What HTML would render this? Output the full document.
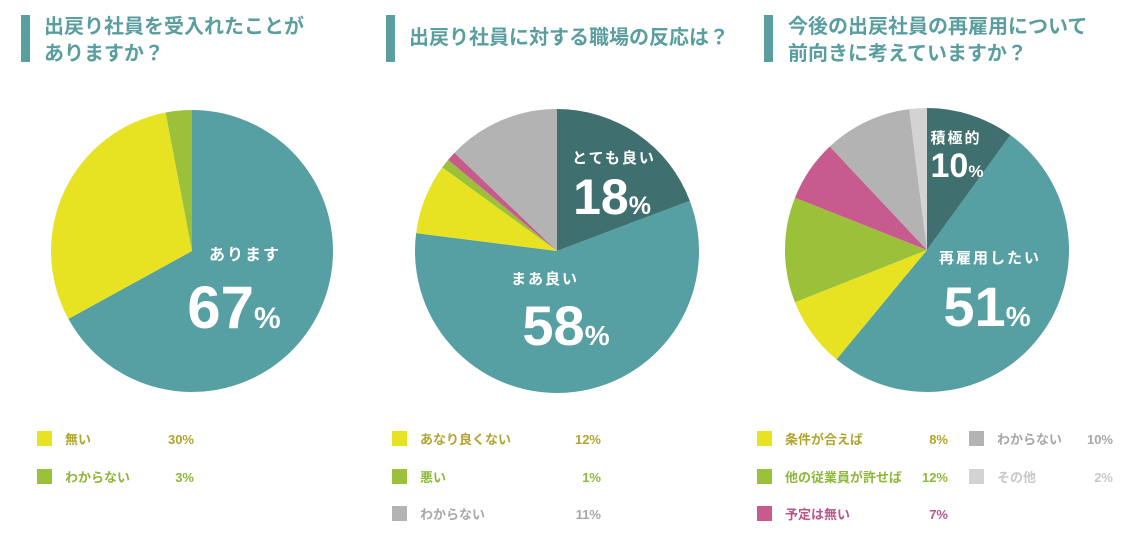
<!DOCTYPE html>
<html><head><meta charset="utf-8">
<style>
body{margin:0;background:#fff;width:1132px;height:530px;overflow:hidden;font-family:"Liberation Sans","Noto Sans CJK JP",sans-serif;}
svg text{font-family:"Liberation Sans","Noto Sans CJK JP",sans-serif;}
</style></head>
<body>
<svg id="chart" width="1132" height="530" xmlns="http://www.w3.org/2000/svg">
<g>
<rect x="21" y="15" width="9" height="47" fill="#5a9ea0"/>
<text x="44" y="33" font-size="20" font-weight="bold" fill="#5a9ea0">出戻り社員を受入れたことが</text>
<text x="44" y="60" font-size="20" font-weight="bold" fill="#5a9ea0">ありますか？</text>
</g>
<g>
<rect x="386" y="15" width="9" height="47" fill="#5a9ea0"/>
<text x="409" y="44" font-size="20" font-weight="bold" fill="#5a9ea0">出戻り社員に対する職場の反応は？</text>
</g>
<g>
<rect x="764" y="15" width="9" height="47" fill="#5a9ea0"/>
<text x="788" y="33" font-size="20" font-weight="bold" fill="#5a9ea0">今後の出戻社員の再雇用について</text>
<text x="788" y="60" font-size="20" font-weight="bold" fill="#5a9ea0">前向きに考えていますか？</text>
</g>
<g id="pies"></g>
</svg>
<script>
// Pie 1
const pie1Values = [67, 30, 3];
const pie1Colors = ["#569fa2", "#e8e322", "#9bc13a"];
// Pie 2 (drawn slice sizes)
const pie2Values = [18, 54, 7.5, 1, 1, 12];
const pie2Colors = ["#3f6f6e", "#569fa2", "#e8e322", "#9bc13a", "#c85b8e", "#b3b3b3"];
// Pie 3
const pie3Values = [10, 51, 8, 12, 7, 10, 2];
const pie3Colors = ["#3f6f6e", "#569fa2", "#e8e322", "#9bc13a", "#c85b8e", "#b3b3b3", "#d3d3d3"];

const legend1Labels = ["無い", "わからない"];
const legend1Values = ["30%", "3%"];
const legend2Labels = ["あなり良くない", "悪い", "わからない"];
const legend2Values = ["12%", "1%", "11%"];
const legend3Labels = ["条件が合えば", "他の従業員が許せば", "予定は無い", "わからない", "その他"];
const legend3Values = ["8%", "12%", "7%", "10%", "2%"];

const NS = "http://www.w3.org/2000/svg";
const root = document.getElementById("pies");
function mk(tag, attrs, parent){const e=document.createElementNS(NS,tag);for(const k in attrs)e.setAttribute(k,attrs[k]);(parent||root).appendChild(e);return e;}
function pt(cx,cy,r,f){const a=f*2*Math.PI;return [cx+r*Math.sin(a),cy-r*Math.cos(a)];}
function drawPie(vals,cols,cx,cy,r,name){
  const tot=vals.reduce((a,b)=>a+b,0);let acc=0;
  vals.forEach((v,i)=>{
    const f0=acc/tot;acc+=v;const f1=acc/tot;
    const p0=pt(cx,cy,r,f0),p1=pt(cx,cy,r,f1);
    const large=(f1-f0)>0.5?1:0;
    const p=mk("path",{d:`M${cx},${cy}L${p0[0]},${p0[1]}A${r},${r} 0 ${large} 1 ${p1[0]},${p1[1]}Z`,fill:cols[i]});
    
    
  });
}
drawPie(pie1Values,pie1Colors,192,251,141,"pie1");
drawPie(pie2Values,pie2Colors,557,251,142,"pie2");
drawPie(pie3Values,pie3Colors,927,250,142,"pie3");

function label(x,y,txt,size,name,anchor){const t=mk("text",{x:x,y:y,"font-size":size,"font-weight":"bold",fill:"#fff","text-anchor":anchor||"middle","letter-spacing":size<20?"2":"0"});t.textContent=txt;


return t;}
function big(x,y,num,size,name){const t=mk("text",{x:x,y:y,"font-size":size,"font-weight":"bold",fill:"#fff","text-anchor":"middle"});


const s1=mk("tspan",{},t);s1.textContent=num;const s2=mk("tspan",{"font-size":size*0.5},t);s2.textContent="%";}
label(245,260,"あります",16,"pie1-label");
big(234,328,"67",60,"pie1-value");
label(614,163,"とても良い",15,"pie2-top-label");
big(612,214,"18",50,"pie2-top-value");
label(545,284,"まあ良い",15,"pie2-main-label");
big(566,345,"58",56,"pie2-main-value");
label(956,143,"積極的",15,"pie3-top-label");
big(957,177,"10",34,"pie3-top-value");
label(990,263,"再雇用したい",15,"pie3-main-label");
big(987,326,"51",56,"pie3-main-value");

const txtCols={"#e8e322":"#b0a52e","#9bc13a":"#8db83a","#c85b8e":"#b8568a","#b3b3b3":"#a8a8a8","#d3d3d3":"#c8c8c8"};
function legendItem(x,y,col,lab,val,valX,name){
  const g=mk("g",{});
  
  
  mk("rect",{x:x,y:y-8,width:15,height:15,fill:col},g);
  const t=mk("text",{x:x+28,y:y+5,"font-size":13,"font-weight":"bold",fill:txtCols[col]},g);t.textContent=lab;
  const v=mk("text",{x:valX,y:y+5,"font-size":13,"font-weight":"bold",fill:txtCols[col],"text-anchor":"end"},g);v.textContent=val;
}
const rows=[439,477,514];
legend1Labels.forEach((l,i)=>legendItem(37,rows[i],pie1Colors[i+1],l,legend1Values[i],194,"legend1-"+i));
const l2c=["#e8e322","#9bc13a","#b3b3b3"];
legend2Labels.forEach((l,i)=>legendItem(392,rows[i],l2c[i],l,legend2Values[i],601,"legend2-"+i));
legend3Labels.forEach((l,i)=>{
  const col=pie3Colors[i+2];
  if(i<3) legendItem(757,rows[i],col,l,legend3Values[i],948,"legend3-"+i);
  else legendItem(969,rows[i-3],col,l,legend3Values[i],1113,"legend3-"+i);
});
</script>
</body></html>
